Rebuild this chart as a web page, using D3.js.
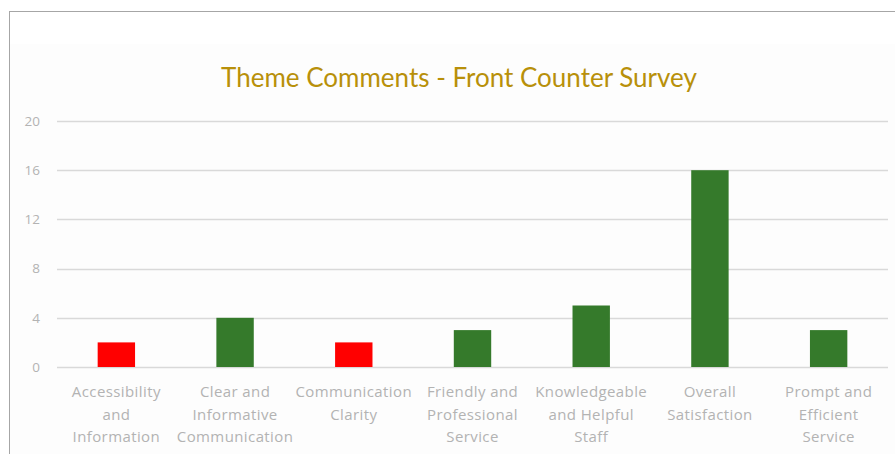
<!DOCTYPE html>
<html>
<head>
<meta charset="utf-8">
<script src="https://cdn.jsdelivr.net/npm/d3@7"></script>
<style>
  html, body { margin: 0; padding: 0; background: #fff; }
  svg { display: block; }
</style>
</head>
<body>
<svg id="chart" width="895" height="454"></svg>
<script>
const categories = [
  "Accessibility and Information",
  "Clear and Informative Communication",
  "Communication Clarity",
  "Friendly and Professional Service",
  "Knowledgeable and Helpful Staff",
  "Overall Satisfaction",
  "Prompt and Efficient Service"
];
const labelLines = [
  ["Accessibility", "and", "Information"],
  ["Clear and", "Informative", "Communication"],
  ["Communication", "Clarity"],
  ["Friendly and", "Professional", "Service"],
  ["Knowledgeable", "and Helpful", "Staff"],
  ["Overall", "Satisfaction"],
  ["Prompt and", "Efficient", "Service"]
];
const values = [2, 4, 2, 3, 5, 16, 3];
const negativeThemes = ["Accessibility and Information", "Communication Clarity"];
const yTicks = [0, 4, 8, 12, 16, 20];
const title = "Theme Comments - Front Counter Survey";

const svg = d3.select("#chart");
const W = 895, H = 454;
const plot = { left: 57, right: 888, top: 121, bottom: 367 };
const labelFont = "'Open Sans', 'Noto Sans', sans-serif";

// outer chart frame
svg.append("rect")
  .attr("x", 9.5).attr("y", 11.5)
  .attr("width", W).attr("height", H)
  .attr("fill", "#fff").attr("stroke", "#a6a6a6").attr("stroke-width", 1);

svg.append("rect")
  .attr("x", 10).attr("y", 44)
  .attr("width", W - 10).attr("height", H - 44)
  .attr("fill", "#fdfdfd");

const x = d3.scaleBand()
  .domain(categories)
  .range([plot.left, plot.right])
  .paddingInner(0.685)
  .paddingOuter(0.3425);

const y = d3.scaleLinear()
  .domain([0, 20])
  .range([plot.bottom, plot.top]);

// gridlines
svg.append("g")
  .selectAll("line")
  .data(yTicks)
  .join("line")
  .attr("x1", plot.left).attr("x2", plot.right)
  .attr("y1", d => Math.round(y(d)) + 0.5)
  .attr("y2", d => Math.round(y(d)) + 0.5)
  .attr("stroke", "#d9d9d9").attr("stroke-width", 1.5);

// y axis labels
const yAxis = d3.axisLeft(y).tickValues(yTicks).tickSize(0).tickPadding(0);
svg.append("g")
  .attr("transform", `translate(${plot.left - 17},0)`)
  .call(yAxis)
  .call(g => g.select(".domain").remove())
  .call(g => g.selectAll("text")
    .attr("fill", "#b3b3b3")
    .attr("font-family", labelFont)
    .attr("font-size", 13.5));

// bars
svg.append("g")
  .selectAll("rect")
  .data(categories)
  .join("rect")
  .attr("x", d => x(d))
  .attr("width", x.bandwidth())
  .attr("y", (d, i) => y(values[i]))
  .attr("height", (d, i) => y(0) - y(values[i]))
  .attr("fill", d => negativeThemes.includes(d) ? "#ff0000" : "#357a2b");

// category labels
const xl = svg.append("g");
categories.forEach((c, i) => {
  const t = xl.append("text")
    .attr("x", x(c) + x.bandwidth() / 2)
    .attr("y", 397)
    .attr("text-anchor", "middle")
    .attr("fill", "#b3b3b3")
    .attr("font-family", labelFont)
    .attr("font-size", 15)
    .attr("letter-spacing", 0.4);
  labelLines[i].forEach((ln, k) => {
    t.append("tspan")
      .attr("x", x(c) + x.bandwidth() / 2)
      .attr("dy", k === 0 ? 0 : 22.5)
      .text(ln);
  });
});

// title
svg.append("text")
  .attr("x", 459).attr("y", 87)
  .attr("text-anchor", "middle")
  .attr("fill", "#b8900a")
  .attr("font-family", "Lato, 'Open Sans', sans-serif")
  .attr("font-size", 26)
  .text(title);
</script>
</body>
</html>
